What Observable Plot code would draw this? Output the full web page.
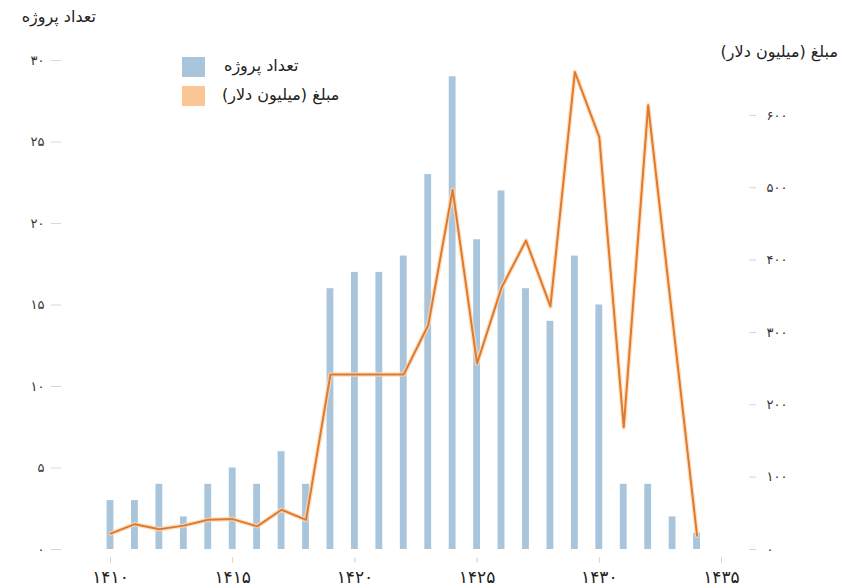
<!DOCTYPE html>
<html>
<head>
<meta charset="utf-8">
<script src="https://cdn.jsdelivr.net/npm/d3@7"></script>
<script src="https://cdn.jsdelivr.net/npm/@observablehq/plot@0.6"></script>
<style>
  html, body { margin: 0; padding: 0; background: #fff; }
  #wrap { position: relative; width: 842px; height: 588px; font-family: "DejaVu Sans", sans-serif; }
  .lbl { position: absolute; font-size: 16px; color: #222; white-space: nowrap; direction: rtl; line-height: 20px; }
  .sw { position: absolute; width: 23px; height: 20px; }
</style>
</head>
<body>
<div id="wrap"></div>
<script>
const years = [1410,1411,1412,1413,1414,1415,1416,1417,1418,1419,1420,1421,1422,1423,1424,1425,1426,1427,1428,1429,1430,1431,1432,1433,1434];
const projects = [3,3,4,2,4,5,4,6,4,16,17,17,18,23,29,19,22,16,14,18,15,4,4,2,1];
const amounts = [22,35,28,33,41,42,32,55,41,242,242,242,242,310,497,257,362,427,336,660,570,169,614,317,19];
const leftTicks = [0,5,10,15,20,25,30];
const rightTicks = [0,100,200,300,400,500,600];
const xTicks = [1410,1415,1420,1425,1430,1435];
const leftTitle = "تعداد پروژه";
const rightTitle = "مبلغ (میلیون دلار)";
const seriesNames = ["تعداد پروژه", "مبلغ (میلیون دلار)"];

const fa = n => String(n).replace(/\d/g, d => "۰۱۲۳۴۵۶۷۸۹"[d]);
const k = 22.53; // right-axis units per left-axis unit

const data = years.map((y, i) => ({year: y, projects: projects[i], amount: amounts[i]}));

const chart = Plot.plot({
  width: 842,
  height: 588,
  marginTop: 60,
  marginBottom: 39,
  marginLeft: 61,
  marginRight: 94,
  style: {fontFamily: "DejaVu Sans, sans-serif", background: "#fff"},
  x: {domain: [1407.995, 1436.105]},
  y: {domain: [0, 30]},
  marks: [
    Plot.rectY(data, {x1: d => d.year - 0.14, x2: d => d.year + 0.14, y1: 0, y2: "projects", fill: "#a8c5dc"}),
    Plot.line(data, {x: "year", y: d => d.amount / k, stroke: "#fcd7b4", strokeWidth: 4.5, strokeOpacity: 0.8}),
    Plot.line(data, {x: "year", y: d => d.amount / k, stroke: "#e07a2a", strokeWidth: 2}),
    Plot.axisY(leftTicks, {anchor: "left", tickSize: 10, tickPadding: 7, stroke: "#d6d6d6", tickFormat: fa, fontSize: 13, fill: "#333", label: null}),
    Plot.axisY(rightTicks.map(v => v / k), {anchor: "right", tickSize: 7, tickPadding: 11, stroke: "#d6d6d6", tickFormat: v => fa(Math.round(v * k)), fontSize: 13, fill: "#333", label: null}),
    Plot.axisX(xTicks, {anchor: "bottom", tickSize: 6, tickPadding: 7, dy: 8, stroke: "#d0d0d0", tickFormat: fa, fontSize: 17, fill: "#222", label: null})
  ]
});

const wrap = document.getElementById("wrap");
wrap.appendChild(chart);

function addLabel(text, right, top) {
  const d = document.createElement("div");
  d.className = "lbl";
  d.textContent = text;
  d.style.right = right + "px";
  d.style.top = top + "px";
  wrap.appendChild(d);
}
function addLabelLeft(text, left, top) {
  const d = document.createElement("div");
  d.className = "lbl";
  d.textContent = text;
  d.style.left = left + "px";
  d.style.top = top + "px";
  wrap.appendChild(d);
}
// axis titles
addLabel(leftTitle, 842 - 96, 7);
addLabel(rightTitle, 842 - 838, 42);
// legend
const legendColors = ["#a8c5dc", "#fcc596"];
legendColors.forEach((c, i) => {
  const s = document.createElement("div");
  s.className = "sw";
  s.style.left = "182px";
  s.style.top = (57 + i * 29) + "px";
  s.style.background = c;
  wrap.appendChild(s);
});
addLabelLeft(seriesNames[0], 224, 56);
addLabelLeft(seriesNames[1], 222, 85);
</script>
</body>
</html>
